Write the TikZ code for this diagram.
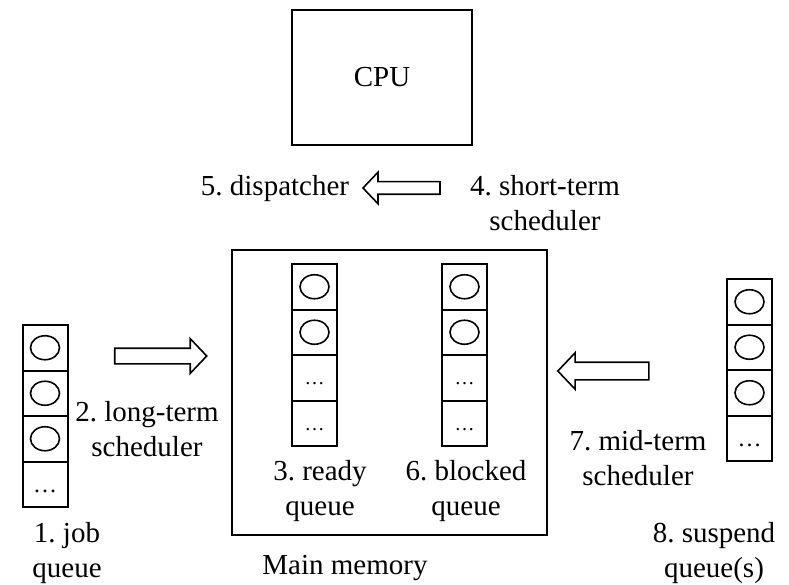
\documentclass[tikz,border=0pt]{standalone}
\usepackage{fontspec}
\setmainfont{Liberation Serif}
\usetikzlibrary{shapes.geometric,shapes.arrows}
\frenchspacing
\begin{document}
\begin{tikzpicture}[x=1pt,y=-1pt,
  box/.style={draw,line width=2pt,inner sep=0pt,outer sep=0pt},
  cell/.style={draw,line width=2pt,minimum width=45pt,minimum height=45.5pt,inner sep=0pt,outer sep=0pt},
  proc/.style={draw,ellipse,line width=1.6pt,minimum width=29pt,minimum height=24pt,inner sep=0pt},
  more/.style={inner sep=0pt,anchor=base},
  lbl/.style={font=\fontsize{29}{35}\selectfont,align=center,anchor=base,inner sep=0pt},
  bigarrow/.style={draw,line width=1.6pt,single arrow,inner xsep=0pt,inner ysep=7pt,
    single arrow head extend=9.5pt,single arrow tip angle=93,text height=0pt,text depth=0pt}
]
\useasboundingbox (0,0) rectangle (789,585);

% processor and main memory
\node[box,minimum width=180pt,minimum height=135pt,font=\fontsize{29}{35}\selectfont] (cpu) at (382,77.5) {CPU};
\node[box,minimum width=315pt,minimum height=285pt] (mem) at (389.5,392.5) {};

% queues: name / x centre / top edge / number of filled slots / size of the dots
\foreach \q/\x/\t/\n/\s in {j/45/325/3/24, r/314.5/264/2/20, b/464.5/264/2/20, s/749.5/279/3/24}{
  \foreach \i in {1,...,4}{
    \node[cell] (\q\i) at (\x,\t+45.5*\i-22.75) {};
    \ifnum\i>\n
      \node[more,font=\fontsize{\s}{\s}\selectfont] at ([yshift=-0.36*\s]\q\i.center) {…};
    \else
      \node[proc] at (\q\i.center) {};
    \fi
  }
}

% scheduler arrows
\node[bigarrow,minimum height=92pt] (lt) at (157,356) {};
\node[bigarrow,shape border rotate=180,minimum height=77pt,inner ysep=5.5pt] (st) at (404.5,188) {};
\node[bigarrow,shape border rotate=180,minimum height=91pt,inner ysep=8pt] (mt) at (607.5,371) {};

% labels (anchored at the baseline of their last line)
\node[lbl] (l1) at (67,577) {1. job\\queue};
\node[lbl] (l2) at (147,456) {2. long-term\\scheduler};
\node[lbl] (l3) at (320,515) {3. ready\\queue};
\node[lbl] (l4) at (545,231) {4. short-term\\scheduler};
\node[lbl] (l5) at (275,196) {5. dispatcher};
\node[lbl] (l6) at (466,515) {6. blocked\\queue};
\node[lbl] (l7) at (638,485) {7. mid-term\\scheduler};
\node[lbl] (l8) at (714,577) {8. suspend\\queue(s)};
\node[lbl] (lm) at (345,574) {Main memory};
\end{tikzpicture}
\end{document}
